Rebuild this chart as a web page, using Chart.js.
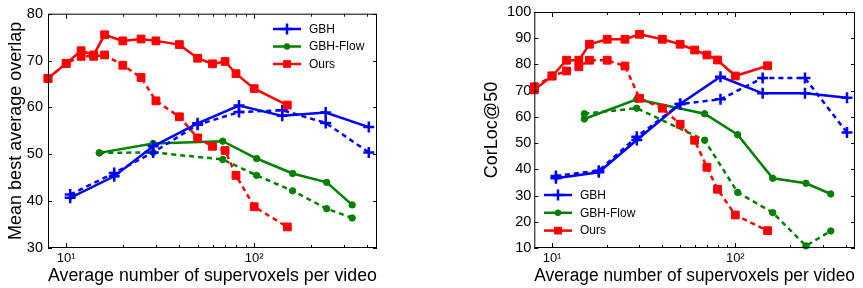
<!DOCTYPE html>
<html>
<head>
<meta charset="utf-8">
<script src="https://cdn.jsdelivr.net/npm/chart.js@4/dist/chart.umd.min.js"></script>
<style>
html, body { margin: 0; padding: 0; background: #fff; }
#wrap { position: relative; width: 863px; height: 288px; overflow: hidden; }
canvas { position: absolute; top: 0; }
#c1 { left: 0; }
#c2 { left: 431px; }
</style>
</head>
<body>
<div id="wrap">
  <canvas id="c1" width="431" height="288"></canvas>
  <canvas id="c2" width="432" height="288"></canvas>
</div>
<script>
// x positions (average number of supervoxels per video)
const oursX = [8, 10, 12, 14, 16, 20, 25, 30, 40, 50, 60, 70, 80, 100, 150];
const gbhX  = [10.5, 18, 29, 50, 83, 141, 240, 407];
const flowX = [15, 29, 68, 103, 160, 243, 332];

// left panel: mean best average overlap
const oursSolidL = [66.2, 69.4, 72.1, 71.2, 75.5, 74.2, 74.6, 74.2, 73.4, 70.5, 69.3, 69.8, 67.2, 64.0, 60.5];
const oursDashL  = [66.2, 69.4, 70.9, 70.9, 71.2, 69.0, 66.4, 61.4, 58.0, 53.5, 51.7, 50.8, 45.5, 38.8, 34.5];
const gbhSolidL  = [40.7, 45.3, 51.7, 56.6, 60.4, 58.2, 58.9, 55.8];
const gbhDashL   = [41.4, 46.0, 50.4, 56.3, 59.0, 59.4, 56.7, 50.4];
const flowSolidL = [50.3, 52.3, 52.8, 49.1, 45.9, 44.0, 39.2];
const flowDashL  = [50.3, 50.4, 48.9, 45.5, 42.2, 38.4, 36.4];

// right panel: CorLoc@50
const oursSolidR = [70.3, 75.6, 81.6, 81.6, 87.7, 89.6, 89.6, 91.5, 89.6, 87.7, 85.5, 83.6, 81.7, 75.6, 79.5];
const oursDashR  = [71.5, 75.6, 77.5, 79.1, 81.6, 81.6, 79.4, 67.1, 63.3, 57.2, 51.1, 40.8, 32.4, 22.6, 16.6];
const gbhSolidR  = [36.6, 38.9, 51.2, 64.9, 75.3, 69.0, 69.0, 67.3];
const gbhDashR   = [37.5, 39.5, 52.4, 64.9, 66.7, 74.8, 74.8, 54.0];
const flowSolidR = [59.2, 66.7, 61.2, 53.2, 36.6, 34.7, 30.6];
const flowDashR  = [61.2, 63.3, 51.1, 31.2, 23.5, 10.8, 16.5];

const xTickVals = [10, 20, 30, 40, 50, 60, 70, 80, 90, 100, 200, 300, 400];
const xTickLabels = { 10: '10\u00b9', 100: '10\u00b2' };
const leftYTicks = [30, 40, 50, 60, 70, 80];
const rightYTicks = [10, 20, 30, 40, 50, 60, 70, 80, 90, 100];
const seriesNames = ['GBH', 'GBH-Flow', 'Ours'];

const FONT = "'Liberation Sans', Arial, Helvetica, sans-serif";
const COLORS = { 'GBH': '#0000ff', 'GBH-Flow': '#008000', 'Ours': '#ff0000' };
const MARKS = {
  'GBH':      { ps: 'cross',  r: 5.5, bw: 2.5 },
  'GBH-Flow': { ps: 'circle', r: 3.2, bw: 1 },
  'Ours':     { ps: 'rect',   r: 5.5, bw: 1 }
};

function pts(xs, ys) { return xs.map((x, i) => ({ x, y: ys[i] })); }

function series(name, xs, ys, dashed) {
  const c = COLORS[name], m = MARKS[name];
  return {
    label: name, data: pts(xs, ys),
    borderColor: c, backgroundColor: c,
    borderWidth: 2.5, borderDash: dashed ? [5, 4] : [],
    pointStyle: m.ps, pointRadius: m.r, pointBorderWidth: m.bw,
    pointBackgroundColor: c, pointBorderColor: c,
    tension: 0, clip: false
  };
}

function mark(ctx, name, x, y) {
  const m = MARKS[name], c = COLORS[name];
  ctx.fillStyle = c; ctx.strokeStyle = c;
  if (m.ps === 'cross') {
    ctx.lineWidth = m.bw;
    ctx.beginPath();
    ctx.moveTo(x - m.r, y); ctx.lineTo(x + m.r, y);
    ctx.moveTo(x, y - m.r); ctx.lineTo(x, y + m.r);
    ctx.stroke();
  } else if (m.ps === 'circle') {
    ctx.beginPath(); ctx.arc(x, y, m.r, 0, Math.PI * 2); ctx.fill();
  } else {
    const s = m.r * Math.SQRT1_2;
    ctx.fillRect(x - s, y - s, 2 * s, 2 * s);
  }
}

// box + inward ticks, matlab style
const framePlugin = {
  id: 'frame',
  afterDraw(chart) {
    const { ctx, chartArea: a, scales: { x, y } } = chart;
    ctx.save();
    ctx.strokeStyle = '#000';
    ctx.lineWidth = 1;
    ctx.setLineDash([]);
    ctx.strokeRect(a.left + 0.5, a.top + 0.5, a.right - a.left - 1, a.bottom - a.top - 1);
    ctx.beginPath();
    xTickVals.forEach(v => {
      const px = Math.round(x.getPixelForValue(v)) + 0.5;
      const len = (v === 10 || v === 100) ? 5 : 3;
      ctx.moveTo(px, a.bottom); ctx.lineTo(px, a.bottom - len);
      ctx.moveTo(px, a.top); ctx.lineTo(px, a.top + len);
    });
    y.ticks.forEach(t => {
      const py = Math.round(y.getPixelForValue(t.value)) + 0.5;
      ctx.moveTo(a.left, py); ctx.lineTo(a.left + 4, py);
      ctx.moveTo(a.right, py); ctx.lineTo(a.right - 4, py);
    });
    ctx.stroke();
    ctx.restore();
  }
};

// legend drawn inside the plot
const legendPlugin = {
  id: 'inLegend',
  afterDraw(chart, args, opts) {
    const { ctx } = chart;
    ctx.save();
    seriesNames.forEach((name, i) => {
      const yy = opts.y0 + i * opts.dy;
      ctx.strokeStyle = COLORS[name];
      ctx.lineWidth = 2.5;
      ctx.setLineDash([]);
      ctx.beginPath();
      ctx.moveTo(opts.x, yy); ctx.lineTo(opts.x + opts.len, yy);
      ctx.stroke();
      mark(ctx, name, opts.x + opts.len / 2, yy);
      ctx.fillStyle = '#000';
      ctx.font = '12px ' + FONT;
      ctx.textBaseline = 'middle';
      ctx.textAlign = 'left';
      ctx.fillText(name, opts.x + opts.len + 8, yy + 0.5);
    });
    ctx.restore();
  }
};

function makeChart(id, d, yTicks, yTitle, pad, yWidth, tickPad, legend) {
  return new Chart(document.getElementById(id), {
    type: 'line',
    data: {
      datasets: [
        series('Ours', oursX, d.oursSolid, false),
        series('Ours', oursX, d.oursDash, true),
        series('GBH', gbhX, d.gbhSolid, false),
        series('GBH', gbhX, d.gbhDash, true),
        series('GBH-Flow', flowX, d.flowSolid, false),
        series('GBH-Flow', flowX, d.flowDash, true)
      ]
    },
    options: {
      responsive: false,
      animation: false,
      layout: { padding: pad },
      plugins: { legend: { display: false }, tooltip: { enabled: false }, inLegend: legend },
      scales: {
        x: {
          type: 'logarithmic', min: 8, max: 450,
          grid: { display: false, drawTicks: false }, border: { display: false },
          afterBuildTicks: s => { s.ticks = xTickVals.map(v => ({ value: v })); },
          afterFit: s => { s.height = 40; },
          ticks: {
            autoSkip: false, maxRotation: 0, padding: 3, color: '#000',
            font: { family: FONT, size: 13 },
            callback: v => xTickLabels[v] || ''
          },
          title: {
            display: true, text: 'Average number of supervoxels per video', color: '#000',
            font: { family: FONT, size: 18 }, padding: { top: 0, bottom: 1 }
          }
        },
        y: {
          min: yTicks[0], max: yTicks[yTicks.length - 1],
          grid: { display: false, drawTicks: false }, border: { display: false },
          afterBuildTicks: s => { s.ticks = yTicks.map(v => ({ value: v })); },
          afterFit: s => { s.width = yWidth; },
          ticks: { padding: tickPad, color: '#000', font: { family: FONT, size: 14.5 } },
          title: {
            display: true, text: yTitle, color: '#000',
            font: { family: FONT, size: 18 }, padding: { top: 5, bottom: 0 }
          }
        }
      }
    },
    plugins: [framePlugin, legendPlugin]
  });
}

makeChart('c1',
  { oursSolid: oursSolidL, oursDash: oursDashL, gbhSolid: gbhSolidL, gbhDash: gbhDashL, flowSolid: flowSolidL, flowDash: flowDashL },
  leftYTicks, 'Mean best average overlap',
  { left: 0, right: 54, top: 12, bottom: 0 }, 48, 5,
  { x: 273, y0: 29, dy: 17.5, len: 28 });

makeChart('c2',
  { oursSolid: oursSolidR, oursDash: oursDashR, gbhSolid: gbhSolidR, gbhDash: gbhDashR, flowSolid: flowSolidR, flowDash: flowDashR },
  rightYTicks, 'CorLoc@50',
  { left: 45, right: 7.3, top: 12, bottom: 0 }, 58.3, 3,
  { x: 113, y0: 195, dy: 17.8, len: 28 });
</script>
</body>
</html>
